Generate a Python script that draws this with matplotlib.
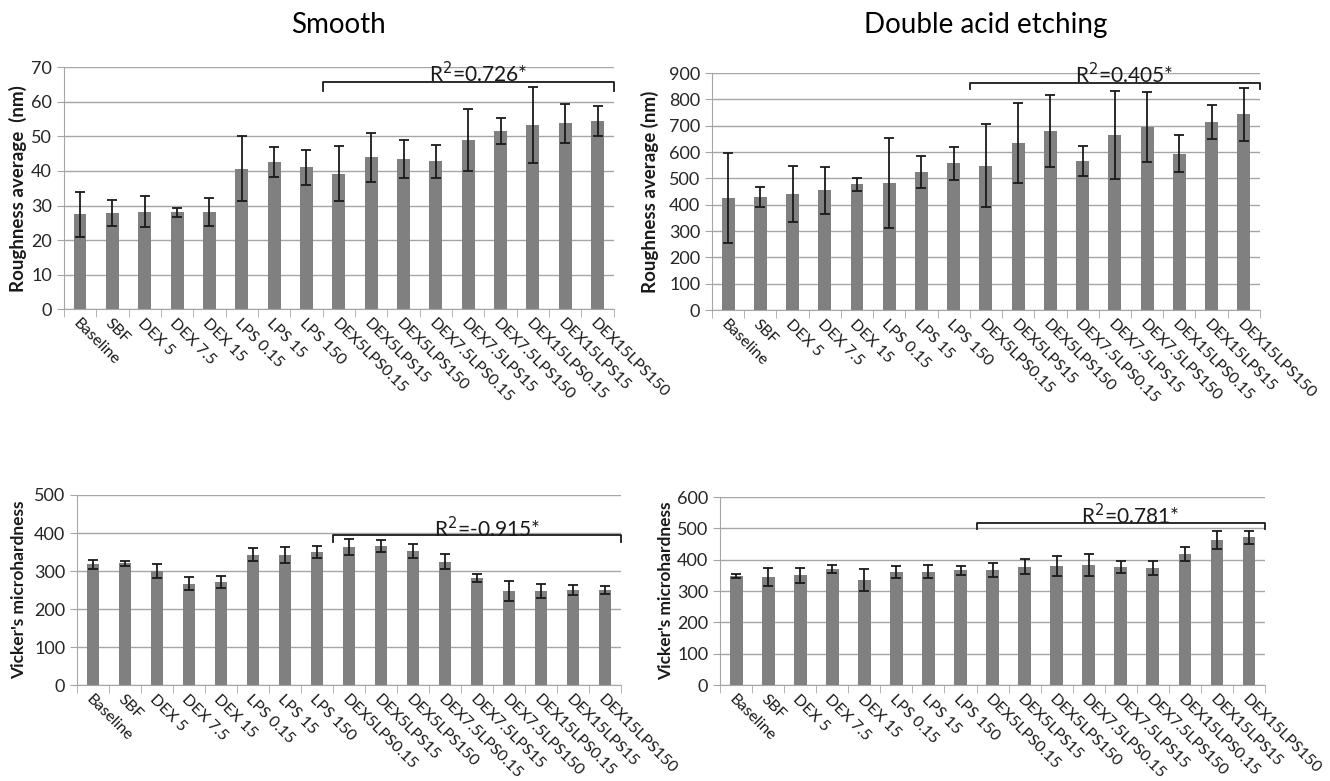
import numpy as np
import matplotlib
matplotlib.use("Agg")
import matplotlib.pyplot as plt

plt.rcParams['font.family'] = ['Lato', 'DejaVu Sans']

groups = ['Baseline', 'SBF', 'DEX 5', 'DEX 7.5', 'DEX 15', 'LPS 0.15', 'LPS 15', 'LPS 150',
          'DEX5LPS0.15', 'DEX5LPS15', 'DEX5LPS150', 'DEX7.5LPS0.15', 'DEX7.5LPS15',
          'DEX7.5LPS150', 'DEX15LPS0.15', 'DEX15LPS15', 'DEX15LPS150']

# roughness, smooth surface (nm)
ra_smooth = [27.5, 27.8, 28.2, 28.0, 28.2, 40.7, 42.5, 41.0, 39.2, 44.0, 43.4, 42.8, 49.0, 51.5, 53.2, 53.8, 54.4]
ra_smooth_err = [6.5, 3.8, 4.5, 1.4, 4.0, 9.5, 4.4, 5.0, 7.9, 7.1, 5.4, 4.8, 9.0, 3.7, 11.0, 5.6, 4.3]

# roughness, double acid etching (nm)
ra_dae = [427, 430, 440, 455, 477, 483, 525, 558, 548, 635, 680, 567, 665, 695, 593, 715, 743]
ra_dae_err = [171, 37, 107, 90, 25, 170, 60, 63, 158, 152, 138, 57, 166, 133, 70, 64, 101]

# vicker's microhardness, smooth
hv_smooth = [318, 320, 300, 267, 270, 343, 341, 350, 363, 366, 353, 324, 281, 247, 247, 250, 250]
hv_smooth_err = [12, 7, 18, 18, 16, 17, 21, 17, 22, 16, 18, 20, 10, 26, 18, 14, 11]

# vicker's microhardness, double acid etching
hv_dae = [348, 345, 350, 370, 335, 361, 362, 366, 368, 377, 380, 383, 377, 374, 417, 462, 471]
hv_dae_err = [7, 28, 23, 12, 34, 20, 22, 15, 22, 24, 32, 36, 19, 23, 22, 28, 20]

r2_text = [r'R$^2$=0.726*', r'R$^2$=0.405*', r'R$^2$=-0.915*', r'R$^2$=0.781*']

fig = plt.figure(figsize=(13.3, 7.81), dpi=100)

panels = [
    # rect, values, errors, ymax, ystep, ylabel, label size, label x, bracket y, bracket drop, text y, R2
    ([0.048, 0.604, 0.4135, 0.310], ra_smooth, ra_smooth_err, 70, 10, 'Roughness average  (nm)', 13.5, -0.067, 65.6, 2.4, 68.0, r2_text[0]),
    ([0.5353, 0.603, 0.412, 0.3035], ra_dae, ra_dae_err, 900, 100, 'Roughness average (nm)', 13.5, -0.097, 862, 21, 893, r2_text[1]),
    ([0.0579, 0.1229, 0.409, 0.2433], hv_smooth, hv_smooth_err, 500, 100, "Vicker's microhardness", 12.5, -0.092, 394, 17, 412, r2_text[2]),
    ([0.5414, 0.1229, 0.4098, 0.2407], hv_dae, hv_dae_err, 600, 100, "Vicker's microhardness", 12.5, -0.084, 518, 21, 540, r2_text[3]),
]

x = np.arange(len(groups))
for rect, vals, errs, ymax, ystep, ylab, lsize, lx, by, bd, ty, r2 in panels:
    ax = fig.add_axes(rect)
    ax.bar(x, vals, width=0.4, color='#808080', zorder=2)
    ax.errorbar(x, vals, yerr=errs, fmt='none', ecolor='#1a1a1a', elinewidth=1.3,
                capsize=3.5, capthick=1.3, zorder=3)
    ax.set_xlim(-0.5, len(groups) - 0.5)
    ax.set_ylim(0, ymax)
    ax.set_yticks(np.arange(0, ymax + 1, ystep))
    ax.yaxis.grid(True, color='#a6a6a6', linewidth=1.0, zorder=0)
    ax.set_axisbelow(True)
    for s in ['top', 'right']:
        ax.spines[s].set_visible(False)
    ax.spines['left'].set_color('#a6a6a6')
    ax.spines['bottom'].set_color('#a6a6a6')
    ax.tick_params(axis='y', length=5, color='#a6a6a6', labelsize=13, labelcolor='#262626')
    ax.set_xticks(x)
    ax.set_xticklabels(groups, rotation=-45, ha='left', va='top', rotation_mode='anchor',
                       fontsize=11.5, color='#1a1a1a')
    ax.tick_params(axis='x', which='major', length=0, pad=5)
    ax.set_xticks(np.arange(-0.5, len(groups), 1.0), minor=True)
    ax.tick_params(axis='x', which='minor', length=6, color='#a6a6a6')
    ax.set_ylabel(ylab, fontsize=lsize, fontweight='bold', color='#1a1a1a')
    ax.yaxis.set_label_coords(lx, 0.5)
    # bracket over the combined treatment groups
    ax.plot([7.5, 7.5, 16.5, 16.5], [by - bd, by, by, by - bd], color='#1a1a1a',
            linewidth=1.3, clip_on=False, zorder=4)
    ax.text(12.3, ty, r2, ha='center', va='center', fontsize=15, color='#1a1a1a',
            zorder=5)

fig.text(0.048 + 0.4135 / 2, 1 - 25 / 781, 'Smooth', ha='center', va='center', fontsize=20)
fig.text(0.5353 + 0.412 / 2, 1 - 25 / 781, 'Double acid etching', ha='center', va='center', fontsize=20)

fig.savefig('out.png', dpi=100, facecolor='white')
